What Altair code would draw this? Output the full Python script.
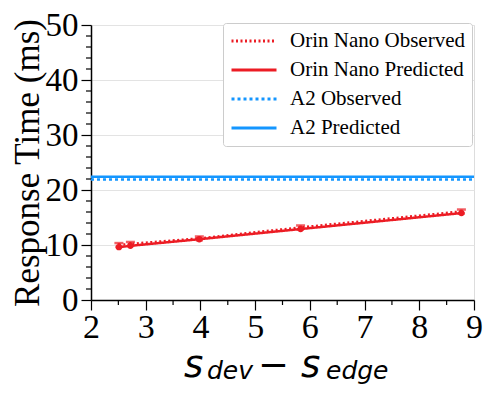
import altair as alt
import pandas as pd

# ---- data ----
x_pts = [2.51, 2.72, 3.98, 5.83, 8.77]
orin_obs = [10.0, 10.2, 11.2, 13.2, 16.1]
orin_obs_err = [0.35, 0.35, 0.35, 0.35, 0.35]
orin_pred = [9.6, 9.85, 11.05, 12.9, 15.8]
a2_x = [2, 9]
a2_obs = [21.9, 21.9]
a2_pred = [22.4, 22.4]

series = ["Orin Nano Observed", "Orin Nano Predicted", "A2 Observed", "A2 Predicted"]
colors = ["#ec1c24", "#ec1c24", "#1496ff", "#1496ff"]
dashes = [[2, 2.5], [1, 0], [3, 3], [1, 0]]

x_major = [2, 3, 4, 5, 6, 7, 8, 9]
x_minor = [2.5, 3.5, 4.5, 5.5, 6.5, 7.5, 8.5]
y_major = [0, 10, 20, 30, 40, 50]
y_minor = [v for v in range(2, 50, 2) if v % 10 != 0]

RED = colors[0]
W, H = 383, 275
SERIF = "Liberation Serif"

rows = []
for x, y in zip(x_pts, orin_obs):
    rows.append({"series": series[0], "x": x, "y": y})
for x, y in zip(x_pts, orin_pred):
    rows.append({"series": series[1], "x": x, "y": y})
for x, y in zip(a2_x, a2_obs):
    rows.append({"series": series[2], "x": x, "y": y})
for x, y in zip(a2_x, a2_pred):
    rows.append({"series": series[3], "x": x, "y": y})
lines_df = pd.DataFrame(rows)

err_df = pd.DataFrame({
    "x": x_pts,
    "lo": [v - e for v, e in zip(orin_obs, orin_obs_err)],
    "hi": [v + e for v, e in zip(orin_obs, orin_obs_err)],
})
pred_df = pd.DataFrame({"x": x_pts, "y": orin_pred})

xscale = alt.Scale(domain=[2, 9], nice=False, zero=False)
yscale = alt.Scale(domain=[0, 50], nice=False)

xaxis = alt.Axis(values=x_major, format="d", tickSize=10, tickWidth=1.2, tickColor="black",
                 domainColor="black", domainWidth=1.5, labelFont=SERIF,
                 labelFontSize=34, labelColor="black", labelPadding=0,
                 grid=False, title=None, labelFlush=False, labelOverlap=False)
yaxis = alt.Axis(values=y_major, format="d", tickSize=10, tickWidth=1.2, tickColor="black",
                 domainColor="black", domainWidth=1.5, labelFont=SERIF,
                 labelFontSize=33, labelColor="black", labelPadding=3,
                 grid=True, gridColor="#e3e3e3", gridWidth=1,
                 title="Response Time (ms)", titleFont=SERIF, titleFontSize=35,
                 titleFontWeight="normal", titleColor="black", titlePadding=0,
                 labelFlush=False, labelOverlap=False)

legend = alt.Legend(orient="none", legendX=132, legendY=-2, title=None,
                    symbolType="stroke", symbolSize=2025, symbolStrokeWidth=3,
                    labelFont=SERIF, labelFontSize=21, labelColor="black",
                    labelOffset=12, clipHeight=22, rowPadding=7,
                    strokeColor="#cccccc", fillColor="white", padding=7,
                    cornerRadius=3, labelLimit=300)

lines = alt.Chart(lines_df).mark_line(strokeWidth=2.5, clip=False).encode(
    x=alt.X("x:Q", scale=xscale, axis=xaxis),
    y=alt.Y("y:Q", scale=yscale, axis=yaxis),
    color=alt.Color("series:N", scale=alt.Scale(domain=series, range=colors),
                    sort=series, legend=legend),
    strokeDash=alt.StrokeDash("series:N", scale=alt.Scale(domain=series, range=dashes),
                              sort=series, legend=legend),
    order=alt.Order("x:Q"),
)

err_rule = alt.Chart(err_df).mark_rule(color=RED, strokeWidth=2.5).encode(
    x="x:Q", y="lo:Q", y2="hi:Q")
err_lo = alt.Chart(err_df).mark_tick(color=RED, orient="horizontal", size=7, thickness=2.5).encode(
    x="x:Q", y="lo:Q")
err_hi = alt.Chart(err_df).mark_tick(color=RED, orient="horizontal", size=9, thickness=2.5).encode(
    x="x:Q", y="hi:Q")
pred_pts = alt.Chart(pred_df).mark_point(filled=True, color=RED, size=40, opacity=1).encode(
    x="x:Q", y="y:Q")

# minor ticks
xminor = alt.Chart(pd.DataFrame({"v": x_minor})).mark_rule(color="black", strokeWidth=1.2).encode(
    x="v:Q", y=alt.value(H), y2=alt.value(H + 5))
yminor = alt.Chart(pd.DataFrame({"v": y_minor})).mark_rule(color="black", strokeWidth=1.2).encode(
    y="v:Q", x=alt.value(0), x2=alt.value(-5))

# x-axis title s_dev - s_edge (math style)
title_parts = [
    ("s", 93, H + 77, 37, "italic"),
    ("dev", 116, H + 79, 25, "italic"),
    ("\u2212", 167, H + 77, 37, "normal"),
    ("s", 210, H + 77, 37, "italic"),
    ("edge", 235, H + 79, 25, "italic"),
]
title_layers = []
for txt, px, py, fs, st in title_parts:
    title_layers.append(
        alt.Chart(pd.DataFrame({"t": [txt]})).mark_text(
            align="left", baseline="alphabetic", font="DejaVu Sans",
            fontSize=fs, fontStyle=st, color="black").encode(
            text="t:N", x=alt.value(px), y=alt.value(py))
    )

chart = alt.layer(lines, err_rule, err_lo, err_hi, pred_pts, xminor, yminor, *title_layers).properties(
    width=W, height=H,
    padding={"left": 83, "top": 17, "right": 9, "bottom": 85},
    autosize=alt.AutoSizeParams(type="none"),
).configure_view(stroke=None).configure(background="white")

chart.save("out.html", embed_options={"renderer": "svg", "actions": False})
